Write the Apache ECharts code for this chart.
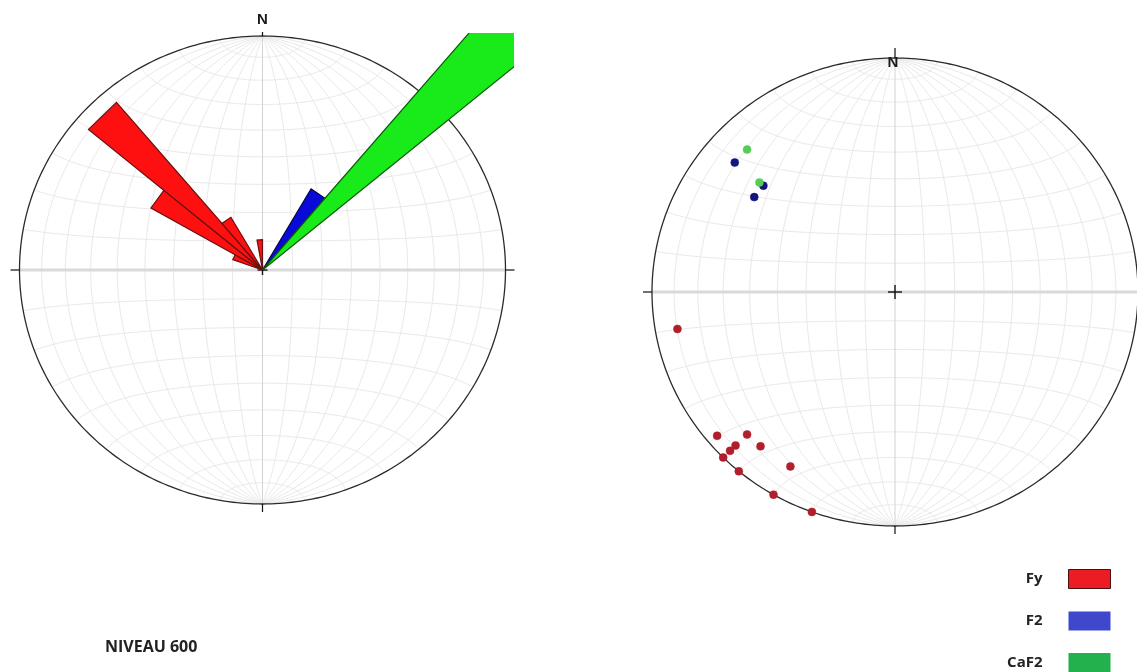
<!DOCTYPE html>
<html><head><meta charset="utf-8">
<script src="https://cdn.jsdelivr.net/npm/echarts@6/dist/echarts.min.js"></script>
<style>html,body{margin:0;padding:0;background:#fff}#c{width:1137px;height:672px}</style>
</head><body><div id="c"></div>
<script>
// ---------------- data ----------------
// Rose diagram (left net): 10° strike bins (start azimuth) and petal length (fraction of net radius)
const roseBinWidth = 10;
const fyRoseStart = [290, 300, 310, 320, 350];
const fyRoseLength = [0.13, 0.53, 0.935, 0.26, 0.13];
const f2RoseStart = [30];
const f2RoseLength = [0.40];
const caf2RoseStart = [40];
const caf2RoseLength = [1.6];

// Poles (right net): trend / plunge in degrees (lower hemisphere, equal area)
const fyTrend  = [260, 230, 225, 225, 225, 220, 225, 210, 220, 210, 200];
const fyPlunge = [10, 5, 15, 8, 4.5, 15, 0, 15, 0, 0, 0];
const f2Trend  = [310, 310, 305];
const f2Plunge = [15, 30, 30];
const caf2Trend  = [315, 310];
const caf2Plunge = [15, 28];

const seriesNames = ['Fy', 'F2', 'CaF2'];
const legendColors = ['#ec1c24', '#3f48cc', '#22b14c'];
const northLabel = 'N';
const levelLabel = 'NIVEAU 600';

// ---------------- layout / style ----------------
const RX = 243, RY = 234;
const NET_L = {cx: 262.5, cy: 270, left: 5, right: 514, top: 33, bottom: 530};
const NET_R = {cx: 895, cy: 292, left: 620, right: 1137, top: 30, bottom: 560};
const deg = Math.PI / 180;

function project(trend, plunge) {
  const t = trend * deg, p = plunge * deg;
  const n = Math.cos(p) * Math.cos(t), e = Math.cos(p) * Math.sin(t), d = Math.sin(p);
  const k = 1 / Math.sqrt(1 + d);
  return [e * k, n * k];
}
function polar(az, r) { return [r * Math.sin(az * deg), r * Math.cos(az * deg)]; }

function netLines() {
  const lines = [];
  for (let dip = 10; dip <= 80; dip += 10) {
    for (const side of [1, -1]) {
      const pts = [];
      for (let phi = 0; phi <= 180; phi += 1) {
        const s = Math.sin(phi * deg), n = Math.cos(phi * deg);
        const e = side * s * Math.cos(dip * deg), d = s * Math.sin(dip * deg);
        const k = 1 / Math.sqrt(1 + d);
        pts.push([e * k, n * k]);
      }
      lines.push(pts);
    }
  }
  for (let a = 10; a <= 170; a += 10) {
    if (a === 90) continue;
    const pts = [];
    for (let psi = 0; psi <= 180; psi += 1) {
      const n = Math.cos(a * deg);
      const e = Math.sin(a * deg) * Math.cos(psi * deg), d = Math.sin(a * deg) * Math.sin(psi * deg);
      const k = 1 / Math.sqrt(1 + d);
      pts.push([e * k, n * k]);
    }
    lines.push(pts);
  }
  return lines;
}
const NET_LINES = netLines();

function axisRange(net) {
  return {
    xmin: (net.left - net.cx) / RX, xmax: (net.right - net.cx) / RX,
    ymax: (net.cy - net.top) / RY, ymin: (net.cy - net.bottom) / RY
  };
}

function frameRenderer(cfg) {
  return function (params, api) {
    const ch = [];
    const c = p => api.coord(p);
    NET_LINES.forEach(l => ch.push({type: 'polyline', shape: {points: l.map(c)},
      style: {stroke: '#e9e9e9', lineWidth: 1, fill: null}, silent: true}));
    ch.push({type: 'polyline', shape: {points: [c([-1, 0]), c([1, 0])]},
      style: {stroke: '#dadada', lineWidth: 3}});
    ch.push({type: 'polyline', shape: {points: [c([0, -1]), c([0, 1])]},
      style: {stroke: '#d2d2d2', lineWidth: 1}});
    const circ = [];
    for (let a = 0; a <= 360; a += 1) circ.push(c(polar(a, 1)));
    ch.push({type: 'polyline', shape: {points: circ}, style: {stroke: '#2b2b2b', lineWidth: 1.3, fill: null}});
    const top = c([0, 1]), bot = c([0, -1]), lef = c([-1, 0]), rig = c([1, 0]), ctr = c([0, 0]);
    const tk = {stroke: '#111', lineWidth: 1.2};
    ch.push({type: 'line', shape: {x1: top[0], y1: top[1], x2: top[0], y2: top[1] - cfg.topTick}, style: tk});
    ch.push({type: 'line', shape: {x1: bot[0], y1: bot[1], x2: bot[0], y2: bot[1] + 8}, style: tk});
    ch.push({type: 'line', shape: {x1: lef[0], y1: lef[1], x2: lef[0] - 9, y2: lef[1]}, style: tk});
    ch.push({type: 'line', shape: {x1: rig[0], y1: rig[1], x2: rig[0] + 9, y2: rig[1]}, style: tk});
    const cs = cfg.cross;
    ch.push({type: 'line', shape: {x1: ctr[0] - cs, y1: ctr[1], x2: ctr[0] + cs, y2: ctr[1]}, style: {stroke: '#111', lineWidth: 1.4}});
    ch.push({type: 'line', shape: {x1: ctr[0], y1: ctr[1] - cs, x2: ctr[0], y2: ctr[1] + cs}, style: {stroke: '#111', lineWidth: 1.4}});
    ch.push({type: 'text', style: {text: northLabel, x: top[0] + cfg.nDx, y: top[1] + cfg.nDy,
      align: 'center', verticalAlign: 'middle', fill: '#1a1a1a',
      font: 'bold 15px "Liberation Sans", Arial, sans-serif'}});
    return {type: 'group', children: ch};
  };
}

function petalSeries(name, starts, lengths, fill, stroke) {
  return {
    type: 'custom', name, xAxisIndex: 0, yAxisIndex: 0, clip: true, z: 3,
    data: starts.map((s, i) => [s, lengths[i]]),
    renderItem: function (params, api) {
      const a0 = api.value(0), len = api.value(1), a1 = a0 + roseBinWidth;
      const pts = [[0, 0], polar(a0, len), polar(a1, len)].map(p => api.coord(p));
      return {type: 'polygon', shape: {points: pts}, style: {fill, stroke, lineWidth: 1.2, lineJoin: 'miter'}};
    }
  };
}

function poleSeries(name, trends, plunges, color, z) {
  return {
    type: 'scatter', name, xAxisIndex: 1, yAxisIndex: 1, clip: false, z,
    symbol: 'circle', symbolSize: 8,
    itemStyle: {color, borderColor: color, borderWidth: 0.5, opacity: 1},
    data: trends.map((t, i) => project(t, plunges[i]))
  };
}

const rL = axisRange(NET_L), rR = axisRange(NET_R);
const chart = echarts.init(document.getElementById('c'), null, {renderer: 'canvas'});
chart.setOption({
  animation: false,
  backgroundColor: '#ffffff',
  title: {text: levelLabel, left: 105, top: 639, padding: 0,
    textStyle: {fontFamily: '"Open Sans", sans-serif', fontWeight: 'bold', fontSize: 16, color: '#222'}},
  grid: [
    {left: NET_L.left, top: NET_L.top, width: NET_L.right - NET_L.left, height: NET_L.bottom - NET_L.top},
    {left: NET_R.left, top: NET_R.top, width: NET_R.right - NET_R.left, height: NET_R.bottom - NET_R.top}
  ],
  xAxis: [
    {gridIndex: 0, type: 'value', min: rL.xmin, max: rL.xmax, show: false},
    {gridIndex: 1, type: 'value', min: rR.xmin, max: rR.xmax, show: false}
  ],
  yAxis: [
    {gridIndex: 0, type: 'value', min: rL.ymin, max: rL.ymax, show: false},
    {gridIndex: 1, type: 'value', min: rR.ymin, max: rR.ymax, show: false}
  ],
  legend: {
    orient: 'vertical', right: 26, top: 569, align: 'right', padding: 0,
    itemWidth: 42, itemHeight: 19, itemGap: 22.5, icon: 'rect', selectedMode: false,
    textStyle: {fontFamily: '"Open Sans", sans-serif', fontWeight: 'bold', fontSize: 15, color: '#222', padding: [0, 21, 0, 0]},
    data: seriesNames.map((n, i) => ({name: n, itemStyle: {color: legendColors[i],
      borderColor: i === 0 ? '#4a1010' : legendColors[i], borderWidth: i === 0 ? 1 : 0}}))
  },
  series: [
    {type: 'custom', name: 'frameL', xAxisIndex: 0, yAxisIndex: 0, clip: false, z: 1, silent: true,
      data: [[0, 0]], renderItem: frameRenderer({topTick: 4, nDx: 0, nDy: -16, cross: 5})},
    {type: 'custom', name: 'frameR', xAxisIndex: 1, yAxisIndex: 1, clip: false, z: 1, silent: true,
      data: [[0, 0]], renderItem: frameRenderer({topTick: 10, nDx: -2, nDy: 5, cross: 7})},
    petalSeries(seriesNames[0], fyRoseStart, fyRoseLength, '#ff1010', '#6a0f0f'),
    petalSeries(seriesNames[1], f2RoseStart, f2RoseLength, '#0a0ad8', '#05054a'),
    petalSeries(seriesNames[2], caf2RoseStart, caf2RoseLength, '#19ea19', '#0b5a0b'),
    poleSeries(seriesNames[0], fyTrend, fyPlunge, '#b01f2b', 4),
    poleSeries(seriesNames[1], f2Trend, f2Plunge, '#15157e', 4),
    poleSeries(seriesNames[2], caf2Trend, caf2Plunge, '#55cc55', 5)
  ]
});
</script></body></html>
